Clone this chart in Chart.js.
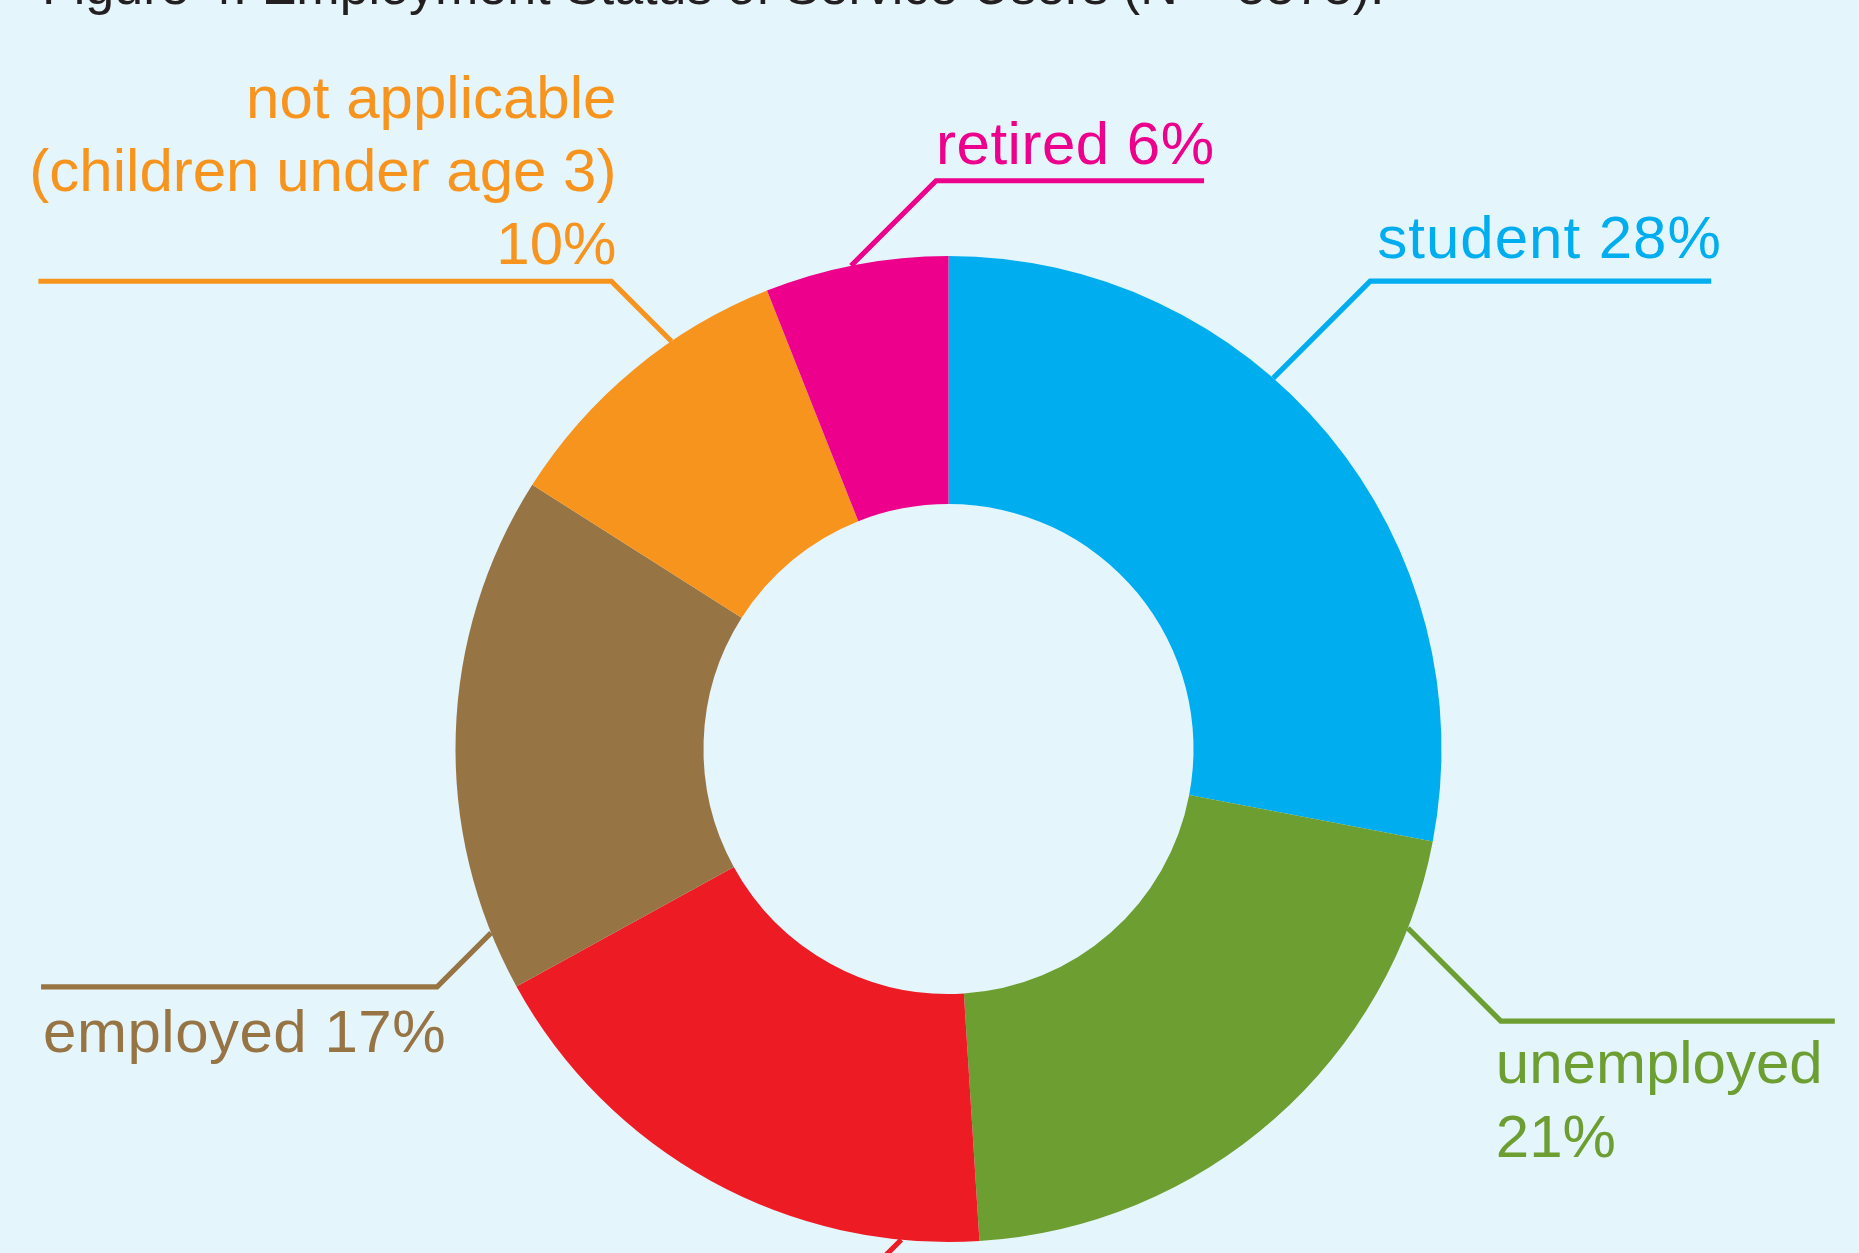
<!DOCTYPE html>
<html><head><meta charset="utf-8">
<script src="https://cdn.jsdelivr.net/npm/chart.js@4.4.1/dist/chart.umd.min.js"></script>
<style>html,body{margin:0;padding:0;background:#E5F5FC;overflow:hidden}#wrap{width:1859px;height:1253px;position:relative}canvas{display:block}</style>
</head><body><div id="wrap"><canvas id="c" width="1859" height="1253"></canvas></div>
<script>
const titleText = "Figure 4: Employment Status of Service Users (N = 5575).";
const categories = ["student", "unemployed", "unable to work", "employed", "not applicable (children under age 3)", "retired"];
const percentages = [28, 21, 18, 17, 10, 6];
const labelLines = [["student 28%"], ["unemployed", "21%"], ["unable to work 18%"], ["employed 17%"], ["not applicable", "(children under age 3)", "10%"], ["retired 6%"]];
const colors = ["#00AEEF", "#6D9E31", "#ED1C24", "#977444", "#F7941D", "#EC008C"];

// leader-line layout (styling only)
const labelLayout = [
  {angle: 41.2,  diag: 97, dirX: 1,  dirY: -1, len: 341, anchor: 'elbow', dx: 7,  align: 'left',  dys: [-23], sp: 1},
  {angle: 111.3, diag: 93, dirX: 1,  dirY: 1,  len: 334, anchor: 'elbow', dx: -5, align: 'left',  dys: [62, 136], sp: 0},
  {angle: 185.5, diag: 60, dirX: -1, dirY: 1,  len: 300, anchor: 'end',   dx: 2,  align: 'left',  dys: [65], sp: 0},
  {angle: 248.1, diag: 54, dirX: -1, dirY: 1,  len: 396, anchor: 'end',   dx: 2,  align: 'left',  dys: [65], sp: 0.5},
  {angle: 325.8, diag: 60, dirX: -1, dirY: -1, len: 573, anchor: 'elbow', dx: 5,  align: 'right', dys: [-163, -90, -17], sp: 0},
  {angle: 348.6, diag: 85, dirX: 1,  dirY: -1, len: 268, anchor: 'elbow', dx: 0,  align: 'left',  dys: [-17], sp: 0.5}
];

const bgPlugin = {
  id: 'bg',
  beforeDraw(chart) {
    const c = chart.ctx;
    c.save();
    c.fillStyle = '#E5F5FC';
    c.fillRect(0, 0, chart.width, chart.height);
    c.restore();
  }
};

const labelPlugin = {
  id: 'leaders',
  afterDraw(chart) {
    const c = chart.ctx;
    const meta = chart.getDatasetMeta(0);
    const arc0 = meta.data[0];
    const cx = arc0.x, cy = arc0.y, R = arc0.outerRadius;
    c.save();
    // title
    c.font = '52px "Liberation Sans", Arial, sans-serif';
    c.fillStyle = '#231F20';
    c.textAlign = 'left';
    c.textBaseline = 'alphabetic';
    c.fillText(titleText, 42, 4);
    labelLayout.forEach((L, i) => {
      const t = L.angle * Math.PI / 180;
      const sx = cx + R * Math.sin(t);
      const sy = cy - R * Math.cos(t);
      const ex = sx + L.dirX * L.diag;
      const ey = sy + L.dirY * L.diag;
      const hx = ex + L.dirX * L.len;
      c.strokeStyle = colors[i];
      c.lineWidth = 5.2;
      c.lineJoin = 'miter';
      c.lineCap = 'butt';
      c.beginPath();
      c.moveTo(sx, sy);
      c.lineTo(ex, ey);
      c.lineTo(hx, ey);
      c.stroke();
      c.fillStyle = colors[i];
      c.font = '60px "Liberation Sans", Arial, sans-serif';
      if ('letterSpacing' in c) c.letterSpacing = L.sp + 'px';
      c.textAlign = L.align;
      const ax = (L.anchor === 'elbow' ? ex : hx) + L.dx;
      labelLines[i].forEach((line, k) => {
        c.fillText(line, ax, ey + L.dys[k]);
      });
    });
    c.restore();
  }
};

new Chart(document.getElementById('c').getContext('2d'), {
  type: 'doughnut',
  data: {
    labels: categories,
    datasets: [{data: percentages, backgroundColor: colors, borderWidth: 0, hoverOffset: 0}]
  },
  options: {
    responsive: false,
    animation: false,
    devicePixelRatio: 1,
    cutout: '49.7%',
    events: [],
    layout: {padding: {left: 455.5, right: 417.5, top: 256, bottom: 11}},
    plugins: {legend: {display: false}, tooltip: {enabled: false}, title: {display: false}}
  },
  plugins: [bgPlugin, labelPlugin]
});
</script>
</body></html>
